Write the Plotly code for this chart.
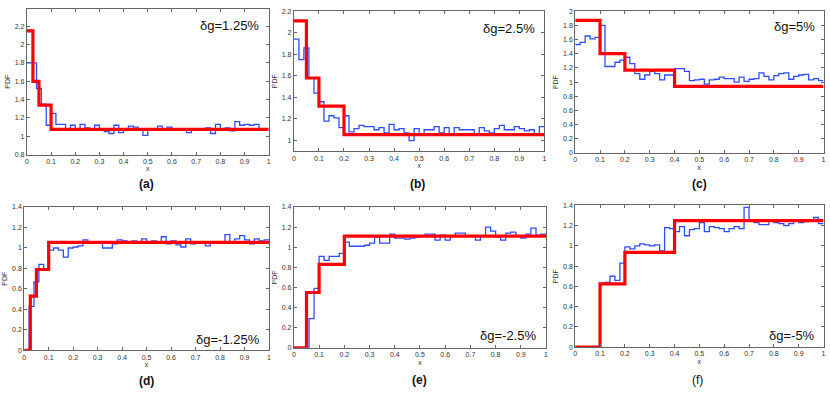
import plotly.graph_objects as go

W, H = 830, 394

# ---------------- data ----------------
bin_width = 0.02  # 50 histogram bins on [0, 1]

blue_a = [1.8, 1.8, 1.52, 1.35, 1.12, 1.25, 1.13, 1.13, 1.07, 1.12,
          1.08, 1.13, 1.09, 1.07, 1.12, 1.08, 1.05, 1.03, 1.12, 1.04,
          1.08, 1.11, 1.10, 1.07, 1.01, 1.07, 1.07, 1.11, 1.07, 1.10,
          1.08, 1.08, 1.07, 1.04, 1.07, 1.07, 1.08, 1.09, 1.03, 1.13,
          1.08, 1.09, 1.06, 1.16, 1.12, 1.13, 1.12, 1.13, 1.08, 1.08]
blue_b = [1.94, 1.75, 1.86, 1.58, 1.44, 1.36, 1.18, 1.23, 1.21, 1.12,
          1.23, 1.08, 1.11, 1.14, 1.13, 1.13, 1.10, 1.12, 1.07, 1.15,
          1.10, 1.11, 1.07, 1.00, 1.11, 1.06, 1.10, 1.10, 1.13, 1.07,
          1.12, 1.05, 1.12, 1.10, 1.10, 1.10, 1.06, 1.12, 1.09, 1.07,
          1.11, 1.14, 1.10, 1.10, 1.13, 1.11, 1.09, 1.10, 1.06, 1.13]
blue_c = [1.53, 1.56, 1.65, 1.61, 1.63, 1.80, 1.22, 1.22, 1.28, 1.31,
          1.35, 1.26, 1.12, 1.04, 1.10, 1.15, 1.12, 1.03, 1.10, 1.10,
          1.19, 1.19, 1.15, 1.02, 1.03, 1.04, 0.97, 1.03, 1.04, 1.07,
          1.05, 1.05, 1.00, 1.07, 1.01, 1.04, 1.05, 1.13, 1.08, 1.03,
          1.09, 1.12, 1.13, 1.04, 1.08, 1.10, 1.11, 1.03, 1.05, 1.02]
blue_d = [0.0, 0.43, 0.67, 0.84, 0.79, 0.98, 1.00, 0.98, 0.91, 1.00,
          1.01, 1.02, 1.08, 1.06, 1.06, 1.05, 1.00, 1.00, 1.04, 1.08,
          1.07, 1.06, 1.07, 1.05, 1.09, 1.06, 1.07, 1.05, 1.11, 1.04,
          1.07, 1.03, 1.01, 1.09, 1.04, 1.05, 1.06, 1.02, 1.05, 1.06,
          1.06, 1.13, 1.06, 1.09, 1.12, 1.08, 1.04, 1.09, 1.07, 1.08]
blue_e = [0.0, 0.0, 0.0, 0.29, 0.59, 0.91, 0.87, 0.91, 0.91, 0.94,
          1.05, 1.01, 1.01, 1.01, 1.02, 1.04, 1.10, 1.04, 1.04, 1.13,
          1.09, 1.09, 1.08, 1.09, 1.10, 1.11, 1.13, 1.13, 1.07, 1.12,
          1.07, 1.11, 1.14, 1.14, 1.11, 1.11, 1.07, 1.11, 1.20, 1.16,
          1.10, 1.07, 1.14, 1.15, 1.11, 1.09, 1.13, 1.19, 1.12, 1.13]
blue_f = [0.0, 0.0, 0.0, 0.0, 0.0, 0.63, 0.64, 0.70, 0.66, 0.83,
          0.99, 0.97, 1.00, 1.02, 1.01, 1.00, 1.01, 0.95, 1.18, 1.17,
          1.14, 1.19, 1.10, 1.16, 1.17, 1.23, 1.14, 1.19, 1.18, 1.17,
          1.14, 1.17, 1.19, 1.17, 1.38, 1.25, 1.23, 1.21, 1.21, 1.25,
          1.23, 1.22, 1.20, 1.22, 1.26, 1.23, 1.24, 1.26, 1.28, 1.22]

red_breaks_a = [0, 0.025, 0.05, 0.1, 1]
red_vals_a = [2.15, 1.60, 1.34, 1.075]
red_breaks_b = [0, 0.05, 0.1, 0.2, 1]
red_vals_b = [2.11, 1.58, 1.32, 1.055]
red_breaks_c = [0, 0.1, 0.2, 0.4, 1]
red_vals_c = [1.87, 1.40, 1.17, 0.94]
red_breaks_d = [0, 0.025, 0.05, 0.1, 1]
red_vals_d = [0.0, 0.53, 0.79, 1.055]
red_breaks_e = [0, 0.05, 0.1, 0.2, 1]
red_vals_e = [0.0, 0.55, 0.83, 1.11]
red_breaks_f = [0, 0.1, 0.2, 0.4, 1]
red_vals_f = [0.0, 0.625, 0.935, 1.25]

labels = ["δg=1.25%", "δg=2.5%", "δg=5%", "δg=-1.25%", "δg=-2.5%", "δg=-5%"]
captions = ["(a)", "(b)", "(c)", "(d)", "(e)", "(f)"]
x_ticks = [0, 0.1, 0.2, 0.3, 0.4, 0.5, 0.6, 0.7, 0.8, 0.9, 1]
x_ticklabels = ["0", "0.1", "0.2", "0.3", "0.4", "0.5", "0.6", "0.7", "0.8", "0.9", "1"]
y_ticks_a = [0.8, 1, 1.2, 1.4, 1.6, 1.8, 2, 2.2]
y_ticks_b = [1, 1.2, 1.4, 1.6, 1.8, 2, 2.2]
y_ticks_c = [0, 0.2, 0.4, 0.6, 0.8, 1, 1.2, 1.4, 1.6, 1.8, 2]
y_ticks_low = [0, 0.2, 0.4, 0.6, 0.8, 1, 1.2, 1.4]

# ---------------- layout (pixel boxes) ----------------
panels = [
    dict(blue=blue_a, rb=red_breaks_a, rv=red_vals_a, box=(25, 5, 268, 153.3), yr=[0.8, 2.39], yt=y_ticks_a,
         lab=(259, 22), cap=(145.5, 183), capbold=True),
    dict(blue=blue_b, rb=red_breaks_b, rv=red_vals_b, box=(293.3, 7.3, 545, 150), yr=[0.9, 2.2], yt=y_ticks_b,
         lab=(537, 25), cap=(418, 183), capbold=True),
    dict(blue=blue_c, rb=red_breaks_c, rv=red_vals_c, box=(576, 7.3, 825.5, 151.7), yr=[0, 2], yt=y_ticks_c,
         lab=(818, 23), cap=(700.5, 183), capbold=True),
    dict(blue=blue_d, rb=red_breaks_d, rv=red_vals_d, box=(22.3, 206.7, 268.3, 352.7), yr=[0, 1.4], yt=y_ticks_low,
         lab=(260, 342), cap=(145, 384), capbold=True),
    dict(blue=blue_e, rb=red_breaks_e, rv=red_vals_e, box=(293.3, 206.7, 546.7, 350), yr=[0, 1.4], yt=y_ticks_low,
         lab=(538, 338), cap=(420, 383), capbold=True),
    dict(blue=blue_f, rb=red_breaks_f, rv=red_vals_f, box=(576, 205, 825.5, 349.3), yr=[0, 1.4], yt=y_ticks_low,
         lab=(818, 337), cap=(699, 383), capbold=False),
]

FONT = "Arial, Liberation Sans, sans-serif"
fig = go.Figure()
layout = dict(width=W, height=H, margin=dict(l=0, r=0, t=0, b=0),
              paper_bgcolor="white", plot_bgcolor="white", showlegend=False,
              font=dict(family=FONT, color="#222"))
annotations = []

for i, p in enumerate(panels):
    k = i + 1
    xa = "x" if k == 1 else f"x{k}"
    ya = "y" if k == 1 else f"y{k}"
    edges = [j * bin_width for j in range(len(p["blue"]) + 1)]
    fig.add_trace(go.Scatter(x=edges, y=p["blue"] + [p["blue"][-1]], mode="lines",
                             line=dict(shape="hv", color="#2f4cff", width=1.3),
                             xaxis=xa, yaxis=ya, hoverinfo="skip"))
    fig.add_trace(go.Scatter(x=p["rb"], y=p["rv"] + [p["rv"][-1]], mode="lines",
                             line=dict(shape="hv", color="#ff0000", width=3.2),
                             xaxis=xa, yaxis=ya, hoverinfo="skip"))
    x0, y0, x1, y1 = p["box"]
    common = dict(showgrid=False, zeroline=False, showline=True, linecolor="#666", linewidth=1,
                  mirror="ticks", ticks="inside", ticklen=3, tickcolor="#666",
                  ticklabeloverflow="allow",
                  tickfont=dict(size=7, family=FONT, color="#333"))
    layout["xaxis" if k == 1 else f"xaxis{k}"] = dict(
        domain=[x0 / W, x1 / W], range=[0, 1], anchor=ya,
        tickvals=x_ticks, ticktext=x_ticklabels,
        title=dict(text="x", font=dict(size=7, family=FONT, color="#333"), standoff=2), **common)
    layout["yaxis" if k == 1 else f"yaxis{k}"] = dict(
        domain=[1 - y1 / H, 1 - y0 / H], range=p["yr"], anchor=xa,
        tickvals=p["yt"], ticktext=[f"{v:g}" for v in p["yt"]],
        title=dict(text="PDF", font=dict(size=7, family=FONT, color="#333"), standoff=3), **common)
    lx, ly = p["lab"]
    annotations.append(dict(text=labels[i], xref="paper", yref="paper",
                            x=lx / W, y=1 - ly / H, xanchor="right", yanchor="middle",
                            showarrow=False, borderpad=0,
                            font=dict(size=13, family=FONT, color="#111")))
    cx, cy = p["cap"]
    cap_text = f"<b>{captions[i]}</b>" if p["capbold"] else captions[i]
    annotations.append(dict(text=cap_text, xref="paper", yref="paper",
                            x=cx / W, y=1 - cy / H, xanchor="center", yanchor="middle",
                            showarrow=False, borderpad=0,
                            font=dict(size=12, family=FONT, color="#111")))

layout["annotations"] = annotations
fig.update_layout(**layout)
fig.write_html("out.html", config={"displayModeBar": False, "staticPlot": True},
               post_script="document.body.style.margin='0';document.body.style.overflow='hidden';")
